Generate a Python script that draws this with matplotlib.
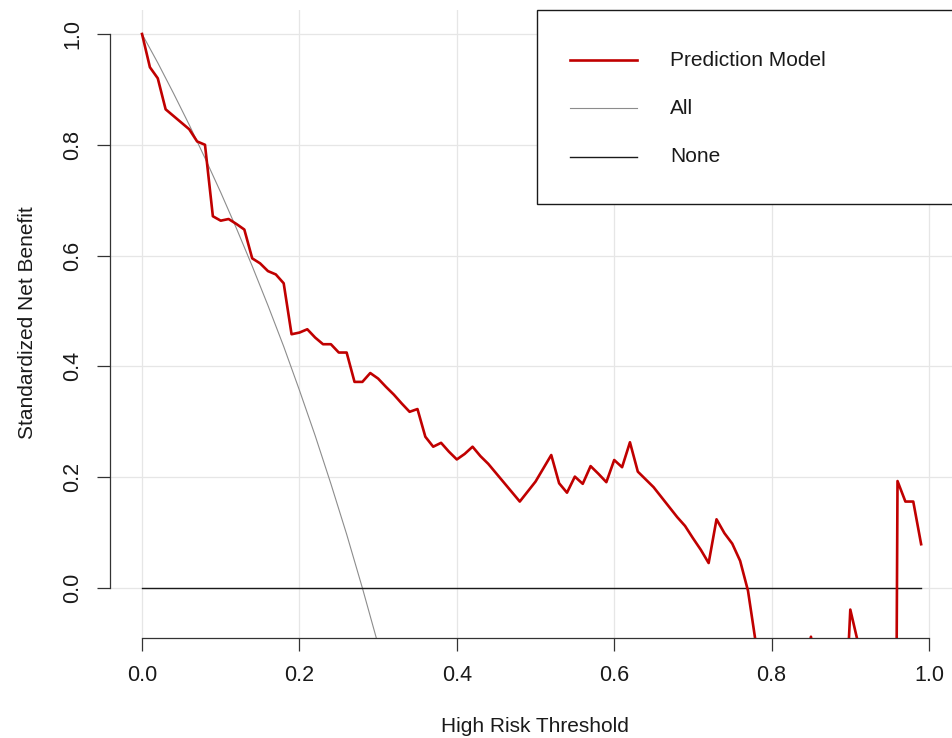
import numpy as np
import matplotlib
matplotlib.use("Agg")
import matplotlib.pyplot as plt
from matplotlib.lines import Line2D
from matplotlib.patches import Rectangle

plt.rcParams['font.family'] = ['Liberation Sans', 'DejaVu Sans']

# umbrales (0.00 ... 0.99)
umbral = [round(0.01 * i, 2) for i in range(100)]

# beneficio neto estandarizado - modelo
modelo = [1.000, 0.940, 0.920, 0.864, 0.852, 0.840, 0.828, 0.806, 0.800, 0.671,
          0.663, 0.666, 0.657, 0.647, 0.595, 0.586, 0.572, 0.566, 0.550, 0.458,
          0.461, 0.467, 0.452, 0.440, 0.440, 0.425, 0.425, 0.372, 0.372, 0.388,
          0.378, 0.363, 0.349, 0.333, 0.318, 0.323, 0.273, 0.255, 0.262, 0.246,
          0.232, 0.242, 0.255, 0.238, 0.224, 0.207, 0.190, 0.173, 0.156, 0.174,
          0.192, 0.216, 0.240, 0.189, 0.172, 0.201, 0.188, 0.220, 0.206, 0.191,
          0.231, 0.218, 0.263, 0.210, 0.196, 0.182, 0.164, 0.146, 0.128, 0.112,
          0.090, 0.069, 0.045, 0.124, 0.099, 0.080, 0.049, -0.005, -0.100, -0.210,
          -0.260, -0.300, -0.250, -0.200, -0.160, -0.088, -0.180, -0.260, -0.320, -0.340,
          -0.039, -0.100, -0.350, -0.500, -0.800, -2.500, 0.193, 0.156, 0.156, 0.079]

# curva "All"
umbral_all = [0.00, 0.02, 0.04, 0.06, 0.08, 0.10, 0.12, 0.14, 0.16, 0.18,
              0.20, 0.22, 0.24, 0.26, 0.28, 0.30, 0.32]
todos = [1.000, 0.948, 0.893, 0.836, 0.776, 0.714, 0.649, 0.581, 0.510, 0.436,
         0.357, 0.275, 0.188, 0.097, 0.000, -0.102, -0.210]

# curva "None"
umbral_none = [0.0, 0.99]
ninguno = [0.0, 0.0]

ticks = [0.0, 0.2, 0.4, 0.6, 0.8, 1.0]
etiquetas = ["0.0", "0.2", "0.4", "0.6", "0.8", "1.0"]

W, H = 953, 738
fig = plt.figure(figsize=(W / 100, H / 100), dpi=100)
ax = fig.add_axes([110 / W, 100 / H, 843 / W, 628 / H])

# grilla
for t in ticks:
    ax.axvline(t, color="#e6e6e6", lw=0.9, zorder=0)
    ax.axhline(t, color="#e6e6e6", lw=0.9, zorder=0)

ax.plot(umbral_all, todos, color="#8c8c8c", lw=0.8, zorder=2)
ax.plot(umbral_none, ninguno, color="#1a1a1a", lw=1.0, zorder=2)
ax.plot(umbral, modelo, color="#c00000", lw=1.9, zorder=3)

ax.set_xlim(-0.0407, 1.0305)
ax.set_ylim(-0.0903, 1.0433)

for s in ["top", "right"]:
    ax.spines[s].set_visible(False)
ax.spines["left"].set_bounds(0, 1)
ax.spines["bottom"].set_bounds(0, 1)
for s in ["left", "bottom"]:
    ax.spines[s].set_color("#333333")
    ax.spines[s].set_linewidth(0.9)

ax.set_xticks(ticks)
ax.set_xticklabels(etiquetas)
ax.set_yticks(ticks)
ax.set_yticklabels(etiquetas, rotation=90, va="center")
ax.tick_params(direction="out", length=9.4, width=0.9, color="#333333",
               labelsize=15.5, labelcolor="#1a1a1a")
ax.tick_params(axis="x", pad=10)
ax.tick_params(axis="y", pad=10)

ax.set_xlabel("High Risk Threshold", fontsize=15, color="#1a1a1a", va="center")
ax.xaxis.set_label_coords((535 - 110) / 843, (638 - 727) / 628)
ax.set_ylabel("Standardized Net Benefit", fontsize=15, color="#1a1a1a", va="center")
ax.yaxis.set_label_coords((28 - 110) / 843, (638 - 323) / 628)

# leyenda
fig.add_artist(Rectangle((537 / W, 1 - 204 / H), 430 / W, 194 / H,
                         transform=fig.transFigure, facecolor="white",
                         edgecolor="#1a1a1a", lw=1.0, zorder=5))
filas = [("Prediction Model", "#c00000", 1.9, 60),
         ("All", "#8c8c8c", 0.8, 108),
         ("None", "#1a1a1a", 1.0, 157)]
for nombre, c, lw, yy in filas:
    fig.add_artist(Line2D([570 / W, 637 / W], [1 - yy / H, 1 - yy / H],
                          transform=fig.transFigure, color=c, lw=lw, zorder=6))
    fig.text(670 / W, 1 - yy / H, nombre, fontsize=15, va="center",
             ha="left", color="#1a1a1a", zorder=6)

fig.savefig("out.png", dpi=100)
